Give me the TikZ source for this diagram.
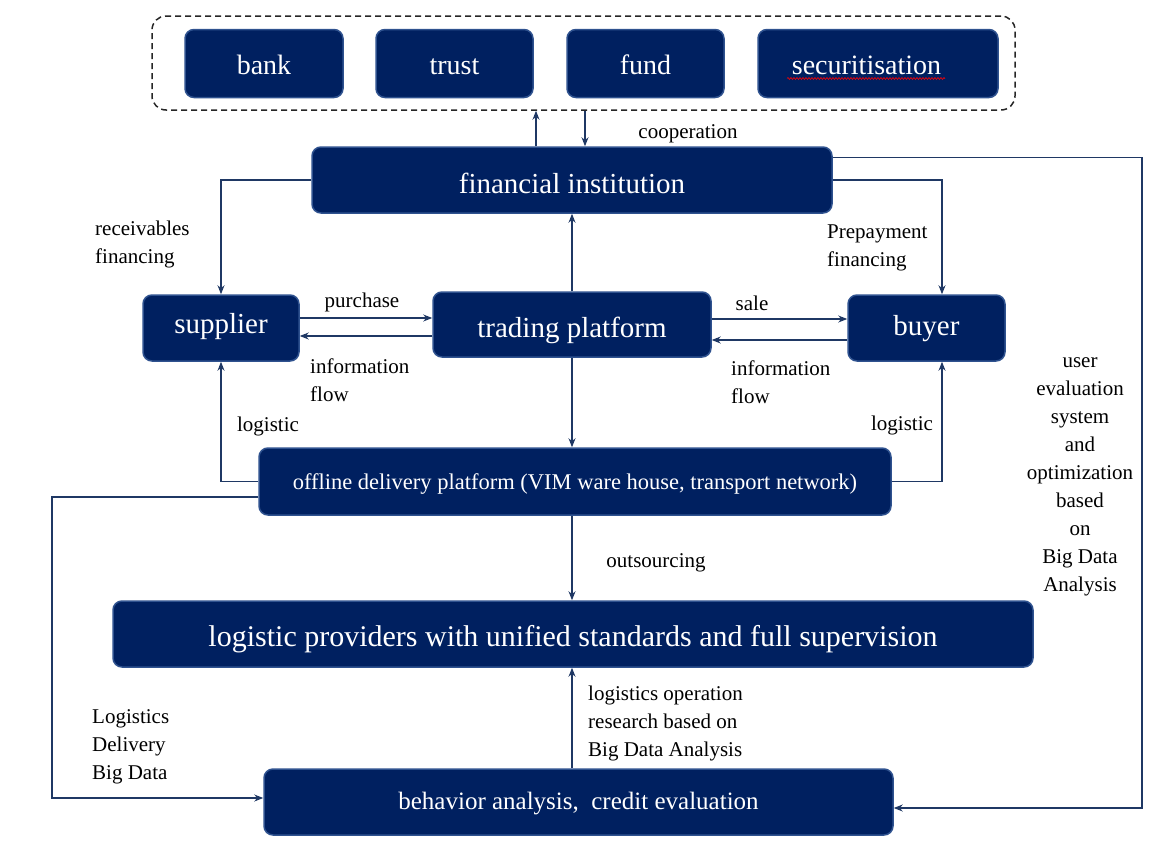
\documentclass[tikz,border=0pt]{standalone}
\usepackage{fontspec}
\setmainfont{Liberation Serif}
\usetikzlibrary{arrows.meta,calc,decorations.pathmorphing}
\definecolor{navy}{HTML}{002060}
\definecolor{edge}{HTML}{2F528F}
\definecolor{wire}{HTML}{1F3864}
\tikzset{
  box/.style={draw=edge, line width=1.5pt, fill=navy, rounded corners=9pt, text=white, inner sep=0pt, align=center},
  tb/.style={text height=#1, text depth=0pt},
  grpbox/.style={draw=black!85, line width=1.5pt, dash pattern=on 6pt off 4pt, rounded corners=14pt, inner sep=0pt},
  wirearrow/.style={draw=wire, line width=1.1pt, -{Stealth[length=9pt,width=7pt]}},
  lbl/.style={font=\fontsize{21}{28}\selectfont, inner sep=0pt, yshift=-2pt},
}
\begin{document}
\begin{tikzpicture}[x=1pt,y=-1pt]
\useasboundingbox (0,0) rectangle (1159,846);
% group
\node[grpbox, minimum width=863pt, minimum height=94pt] (grp) at (583.5,63) {};
\node[box, tb=21pt, minimum width=158pt, minimum height=68pt, font=\fontsize{28}{32}\selectfont] (bank) at (264,63.5) {bank};
\node[box, tb=21pt, minimum width=157pt, minimum height=68pt, font=\fontsize{28}{32}\selectfont] (trust) at (454.5,63.5) {trust};
\node[box, tb=21pt, minimum width=157pt, minimum height=68pt, font=\fontsize{28}{32}\selectfont] (fund) at (645.5,63.5) {fund};
\node[box, tb=21pt, minimum width=240pt, minimum height=68pt, font=\fontsize{28}{32}\selectfont] (sec) at (878,63.5) {securitisation\hspace{23pt}};
\draw[red, line width=0.6pt, decorate, decoration={snake, amplitude=1pt, segment length=3pt}] ($(sec.center)+(-91,15)$) -- ($(sec.center)+(67,15)$);
% main boxes
\node[box, tb=26pt, minimum width=520pt, minimum height=66pt, font=\fontsize{29}{33}\selectfont] (fi) at (572,180) {financial institution};
\node[box, tb=10pt, minimum width=156pt, minimum height=66pt, font=\fontsize{29}{33}\selectfont] (sup) at (221,328) {supplier};
\node[box, tb=25pt, minimum width=278pt, minimum height=65pt, font=\fontsize{29}{33}\selectfont] (tp) at (572,324.5) {trading platform};
\node[box, tb=14pt, minimum width=157pt, minimum height=66pt, font=\fontsize{29}{33}\selectfont] (buy) at (926.5,328) {buyer};
\node[box, tb=15pt, minimum width=632pt, minimum height=67pt, font=\fontsize{22.5}{26}\selectfont] (off) at (575,481.5) {offline delivery platform (VIM ware house, transport network)};
\node[box, tb=24pt, minimum width=920pt, minimum height=66pt, font=\fontsize{30}{34}\selectfont] (lp) at (573,634) {logistic providers with unified standards and full supervision};
\node[box, tb=14pt, minimum width=629pt, minimum height=66pt, font=\fontsize{25}{29}\selectfont] (beh) at (578.5,802) {behavior analysis,\ \ credit evaluation};
% helper coordinates
\coordinate (xa) at (536,0);
\coordinate (xb) at (585,0);
\coordinate (xr) at (1142,0);
\coordinate (xl) at (52,0);
% group <-> financial institution
\draw[wirearrow] (xa |- fi.north) -- (xa |- grp.south);
\draw[wirearrow] (xb |- grp.south) -- (xb |- fi.north);
% financial institution -> supplier / buyer
\draw[wirearrow] (fi.west) -| (sup.north);
\draw[wirearrow] (fi.east) -| ($(buy.north)+(15.5,0)$);
% financial institution -> behaviour (right loop)
\draw[wirearrow] ($(fi.north east)+(0,11)$) -| ($(xr |- beh.east)+(0,6)$) -- ($(beh.east)+(0,6)$);
% trading platform vertical
\draw[wirearrow] (tp.north) -- (fi.south);
\draw[wirearrow] (tp.south) -- (tp.south |- off.north);
\draw[wirearrow] (tp.south |- off.south) -- (tp.south |- lp.north);
\draw[wirearrow] (tp.south |- beh.north) -- (tp.south |- lp.south);
% supplier <-> trading
\draw[wirearrow] ($(sup.east)+(0,-10)$) -- ($(tp.west)+(0,-6.5)$);
\draw[wirearrow] ($(tp.west)+(0,11.5)$) -- ($(sup.east)+(0,8)$);
% trading <-> buyer
\draw[wirearrow] ($(tp.east)+(0,-5.5)$) -- ($(buy.west)+(0,-9)$);
\draw[wirearrow] ($(buy.west)+(0,12)$) -- ($(tp.east)+(0,15.5)$);
% offline -> supplier / buyer
\draw[wirearrow] (off.west) -| (sup.south);
\draw[wirearrow] (off.east) -| ($(buy.south)+(15.5,0)$);
% offline -> behaviour (left loop)
\draw[wirearrow] ($(off.west)+(0,15.5)$) -| ($(xl |- beh.west)+(0,-4)$) -- ($(beh.west)+(0,-4)$);
% labels
\node[lbl] (l1) at (688,132) {cooperation};
\node[lbl, anchor=west, align=left] (l2) at (95,242) {receivables\\financing};
\node[lbl, anchor=west, align=left] (l3) at (827,246) {Prepayment\\financing};
\node[lbl] (l4) at (362,300) {purchase};
\node[lbl] (l5) at (752,301) {sale};
\node[lbl, anchor=west, align=left] (l6) at (310,378) {information\\flow};
\node[lbl, anchor=west, align=left] (l7) at (731,380) {information\\flow};
\node[lbl] (l8) at (268,424) {logistic};
\node[lbl] (l9) at (902,423) {logistic};
\node[lbl, align=center] (l10) at (1080,475) {user\\evaluation\\system\\and\\optimization\\based\\on\\Big Data\\Analysis};
\node[lbl] (l11) at (656,561) {outsourcing};
\node[lbl, anchor=west, align=left] (l12) at (92,745) {Logistics\\Delivery\\Big Data};
\node[lbl, anchor=west, align=left] (l13) at (588,721) {logistics operation\\research based on\\Big Data Analysis};
\end{tikzpicture}
\end{document}
